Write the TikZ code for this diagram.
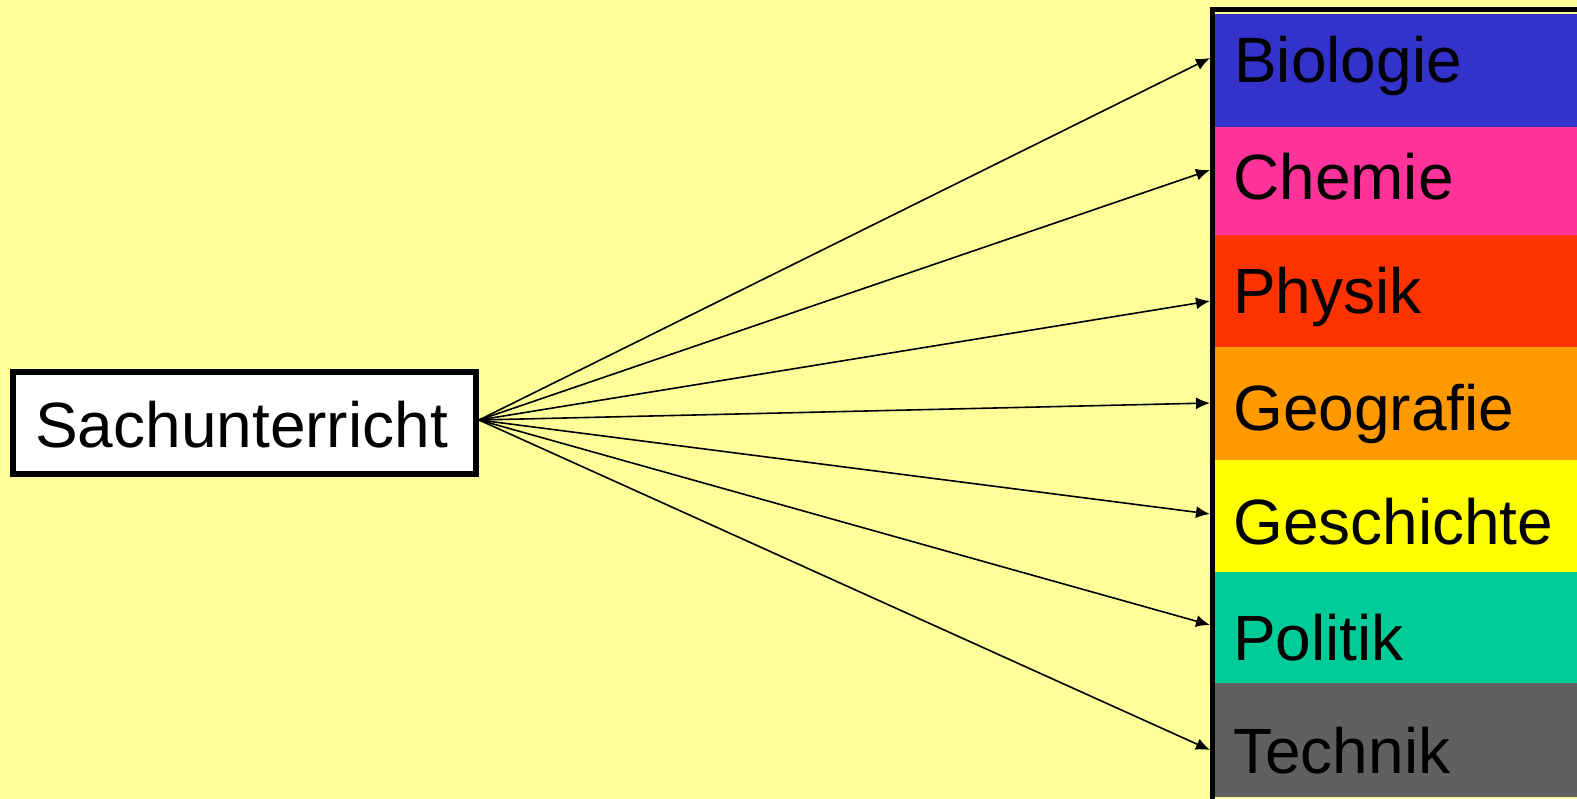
\documentclass[tikz,border=0pt]{standalone}
\usepackage{fontspec}
\setmainfont{Liberation Sans}
\usetikzlibrary{arrows.meta}
\definecolor{bg}{HTML}{FFFF99}
\definecolor{cbio}{HTML}{3333CC}
\definecolor{cche}{HTML}{FF3399}
\definecolor{cphy}{HTML}{FF3300}
\definecolor{cgeo}{HTML}{FF9900}
\definecolor{cges}{HTML}{FFFF00}
\definecolor{cpol}{HTML}{00CC99}
\definecolor{ctec}{HTML}{606060}
\tikzset{
  cell/.style={draw=none, inner sep=0pt, anchor=north west, minimum width=380pt},
  lbl/.style={inner sep=0pt, anchor=base west, font=\fontsize{64}{70}\selectfont},
  conn/.style={line width=1.6pt, -{Latex[length=14pt,width=12pt]}, shorten >=0pt},
}
\begin{document}
\begin{tikzpicture}[x=1pt,y=-1pt]
\fill[bg] (0,0) rectangle (1577,799);
\useasboundingbox (0,0) rectangle (1577,799);
\clip (0,0) rectangle (1577,799);
% column cells
\node[cell, fill=cbio, minimum height=113pt] (bio) at (1215,14) {};
\node[cell, fill=cche, minimum height=108pt] (che) at (1215,127) {};
\node[cell, fill=cphy, minimum height=112pt] (phy) at (1215,235) {};
\node[cell, fill=cgeo, minimum height=113pt] (geo) at (1215,347) {};
\node[cell, fill=cges, minimum height=112pt] (ges) at (1215,460) {};
\node[cell, fill=cpol, minimum height=111pt] (pol) at (1215,572) {};
\node[cell, fill=ctec, minimum height=114pt] (tec) at (1215,683) {};
% column border
\draw[line width=5.5pt] (1212.5,820) -- (1212.5,9.5) -- (1600,9.5);
% labels
\node[lbl] (lbio) at (1234,83) {Biologie};
\node[lbl] (lche) at (1233,200) {Chemie};
\node[lbl] (lphy) at (1233,314) {Physik};
\node[lbl] (lgeo) at (1233,430) {Geografie};
\node[lbl] (lges) at (1233,544) {Geschichte};
\node[lbl] (lpol) at (1233,660) {Politik};
\node[lbl] (ltec) at (1233,773) {Technik};
% source box
\node[draw, line width=6pt, fill=white, inner sep=0pt, minimum width=463pt, minimum height=102pt] (sach) at (244.5,423) {};
\node[lbl] (lsach) at (35,447) {Sachunterricht};
\coordinate (src) at (479,420);
% arrow targets
\coordinate (tbio) at (1210,58);
\coordinate (tche) at (1210,170);
\coordinate (tphy) at (1210,301);
\coordinate (tgeo) at (1210,403);
\coordinate (tges) at (1210,514);
\coordinate (tpol) at (1210,625);
\coordinate (ttec) at (1210,750);
\foreach \t in {tbio,tche,tphy,tgeo,tges,tpol,ttec}
  \draw[conn] (src) -- (\t);
\end{tikzpicture}
\end{document}
